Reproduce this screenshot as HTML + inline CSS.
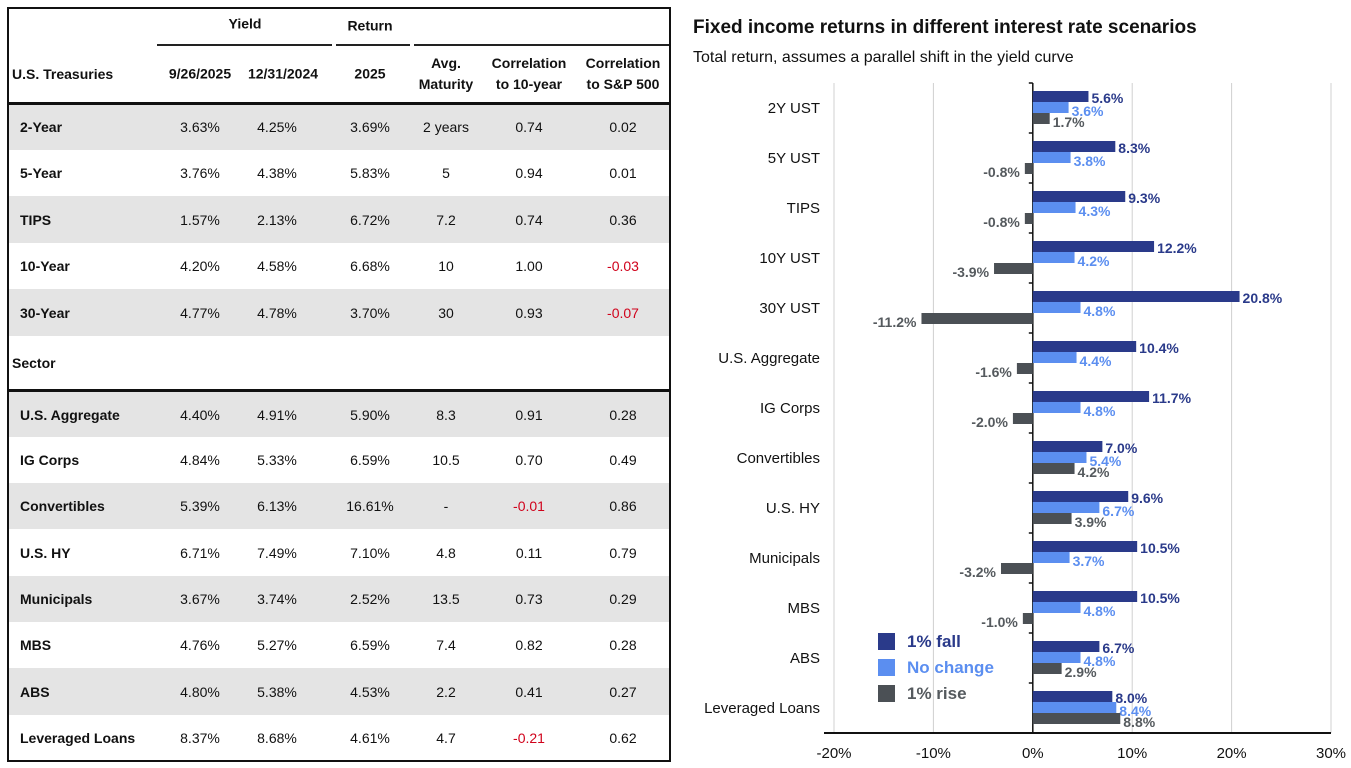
<!DOCTYPE html>
<html><head><meta charset="utf-8">
<style>
body{margin:0;width:1351px;height:768px;background:#fff;font-family:"Liberation Sans",Arial,sans-serif;overflow:hidden;position:relative}
.abs{position:absolute}
.cell{position:absolute;font-size:14px;color:#111;text-align:center;transform:translate(-50%,-50%);white-space:nowrap}
.lab{position:absolute;font-size:14px;font-weight:bold;color:#111;transform:translateY(-50%);white-space:nowrap}
.hd{position:absolute;font-size:14px;font-weight:bold;color:#111;text-align:center;transform:translate(-50%,-50%);line-height:21px;white-space:nowrap}
</style></head><body>
<div id="table" class="abs" style="left:0;top:0;width:680px;height:768px">
  <div class="abs" style="left:7px;top:7px;width:660px;height:751px;border:2px solid #111"></div>
  <div class="hd" style="left:245px;top:24px">Yield</div>
  <div class="hd" style="left:370px;top:26px">Return</div>
  <div class="abs" style="left:157px;top:44px;width:175px;height:2px;background:#222"></div>
  <div class="abs" style="left:336px;top:44px;width:74px;height:2px;background:#222"></div>
  <div class="abs" style="left:414px;top:44px;width:255px;height:2px;background:#222"></div>
  <div class="lab" style="left:12px;top:74px">U.S. Treasuries</div>
  <div class="hd" style="left:200px;top:74px">9/26/2025</div>
  <div class="hd" style="left:283px;top:74px">12/31/2024</div>
  <div class="hd" style="left:370px;top:74px">2025</div>
  <div class="hd" style="left:446px;top:74px">Avg.<br>Maturity</div>
  <div class="hd" style="left:529px;top:74px">Correlation<br>to 10-year</div>
  <div class="hd" style="left:623px;top:74px">Correlation<br>to S&amp;P 500</div>
  <div class="abs" style="left:7px;top:102px;width:664px;height:3px;background:#111"></div>
  <div class="abs" style="left:7px;top:389px;width:664px;height:3px;background:#111"></div>
  <div class="lab" style="left:12px;top:363px">Sector</div>
</div>
<svg id="chart" class="abs" style="left:0;top:0" width="1351" height="768"></svg>
<script>
const rowNames=["2-Year","5-Year","TIPS","10-Year","30-Year","U.S. Aggregate","IG Corps","Convertibles","U.S. HY","Municipals","MBS","ABS","Leveraged Loans"];
const yield1=["3.63%","3.76%","1.57%","4.20%","4.77%","4.40%","4.84%","5.39%","6.71%","3.67%","4.76%","4.80%","8.37%"];
const yield2=["4.25%","4.38%","2.13%","4.58%","4.78%","4.91%","5.33%","6.13%","7.49%","3.74%","5.27%","5.38%","8.68%"];
const ret2025=["3.69%","5.83%","6.72%","6.68%","3.70%","5.90%","6.59%","16.61%","7.10%","2.52%","6.59%","4.53%","4.61%"];
const avgMat=["2 years","5","7.2","10","30","8.3","10.5","-","4.8","13.5","7.4","2.2","4.7"];
const corr10=["0.74","0.94","0.74","1.00","0.93","0.91","0.70","-0.01","0.11","0.73","0.82","0.41","-0.21"];
const corrSP=["0.02","0.01","0.36","-0.03","-0.07","0.28","0.49","0.86","0.79","0.29","0.28","0.27","0.62"];
const rowTops=[104,150,196,243,289,392,437,483,529,576,622,668,715];
const rowBots=[150,196,243,289,336,437,483,529,576,622,668,715,760];
const shaded=[1,0,1,0,1,1,0,1,0,1,0,1,0];
const tbl=document.getElementById('table');
const colX=[200,277,370,446,529,623];
rowNames.forEach((n,i)=>{
  const t=rowTops[i],h=rowBots[i]-t,cy=t+h/2;
  if(shaded[i]){const bg=document.createElement('div');bg.className='abs';
    
    
    bg.style.cssText=`left:9px;top:${t}px;width:660px;height:${h}px;background:#e4e4e4`;tbl.insertBefore(bg,tbl.children[1]);}
  const l=document.createElement('div');l.className='lab';l.textContent=n;l.style.left='20px';l.style.top=cy+'px';
  
  
  tbl.appendChild(l);
  [yield1[i],yield2[i],ret2025[i],avgMat[i],corr10[i],corrSP[i]].forEach((v,j)=>{
    const c=document.createElement('div');c.className='cell';c.textContent=v;c.style.left=colX[j]+'px';c.style.top=cy+'px';
    if(j>=4&&v.startsWith('-'))c.style.color='#d0021b';
    
    
    tbl.appendChild(c);
  });
});

const categories=["2Y UST","5Y UST","TIPS","10Y UST","30Y UST","U.S. Aggregate","IG Corps","Convertibles","U.S. HY","Municipals","MBS","ABS","Leveraged Loans"];
const fallVals=[5.6,8.3,9.3,12.2,20.8,10.4,11.7,7.0,9.6,10.5,10.5,6.7,8.0];
const noChangeVals=[3.6,3.8,4.3,4.2,4.8,4.4,4.8,5.4,6.7,3.7,4.8,4.8,8.4];
const riseVals=[1.7,-0.8,-0.8,-3.9,-11.2,-1.6,-2.0,4.2,3.9,-3.2,-1.0,2.9,8.8];
const xTicks=[-20,-10,0,10,20,30];
const seriesNames=["1% fall","No change","1% rise"];
const NS='http://www.w3.org/2000/svg';
const svg=document.getElementById('chart');
const x0=834,x1=1331,dmin=-20,dmax=30,plotTop=83,plotBot=733;
const xs=v=>x0+(v-dmin)/(dmax-dmin)*(x1-x0);
const band=(plotBot-plotTop)/categories.length;
function el(tag,attrs,name){const e=document.createElementNS(NS,tag);for(const k in attrs)e.setAttribute(k,attrs[k]);
  
  
  svg.appendChild(e);return e;}
function txt(s,attrs,name){const e=el('text',attrs,name);e.textContent=s;return e;}
txt("Fixed income returns in different interest rate scenarios",{x:693,y:33,'font-size':19,'font-weight':'bold',fill:'#111','font-family':'Liberation Sans'},'chart-title');
txt("Total return, assumes a parallel shift in the yield curve",{x:693,y:62,'font-size':16,fill:'#111','font-family':'Liberation Sans'},'chart-subtitle');
xTicks.forEach(t=>{
  if(t!==0)el('line',{x1:xs(t),x2:xs(t),y1:plotTop,y2:plotBot,stroke:'#d0d0d0','stroke-width':1},'gridline');
  txt(t+'%',{x:xs(t),y:758,'font-size':15,'text-anchor':'middle',fill:'#111','font-family':'Liberation Sans'},'x-tick-label');
});
el('line',{x1:x0-10,x2:x1,y1:plotBot,y2:plotBot,stroke:'#111','stroke-width':2},'x-axis');
el('line',{x1:xs(0),x2:xs(0),y1:plotTop,y2:plotBot,stroke:'#111','stroke-width':1.5},'y-axis');
const colors=['#2a3a8a','#5b8ef0','#4b5055'];
const labColors=['#2a3a8a','#5b8ef0','#555a5e'];
const series=[fallVals,noChangeVals,riseVals];
categories.forEach((c,i)=>{
  const bt=plotTop+i*band;
  el('line',{x1:xs(0)-4,x2:xs(0),y1:bt,y2:bt,stroke:'#111','stroke-width':1.5},'category-tick');
  txt(c,{x:820,y:bt+band/2+5,'font-size':15,'text-anchor':'end',fill:'#111','font-family':'Liberation Sans'},'category-label');
  series.forEach((s,k)=>{
    const v=s[i],y=bt+8+k*11;
    el('rect',{x:Math.min(xs(0),xs(v)),y:y,width:Math.abs(xs(v)-xs(0)),height:11,fill:colors[k]},'bar-'+k);
    const pos=v>=0;
    txt(v.toFixed(1)+'%',{x:pos?xs(v)+3:xs(v)-5,y:y+(k===0?12:14),'font-size':14,'font-weight':'bold','text-anchor':pos?'start':'end',fill:labColors[k],'font-family':'Liberation Sans'},'value-label');
  });
});
seriesNames.forEach((n,k)=>{
  const y=633+k*26;
  el('rect',{x:878,y:y,width:17,height:17,fill:colors[k]},'legend-swatch');
  txt(n,{x:907,y:y+14,'font-size':17,'font-weight':'bold',fill:labColors[k],'font-family':'Liberation Sans'},'legend-entry');
});
</script>
</body></html>
